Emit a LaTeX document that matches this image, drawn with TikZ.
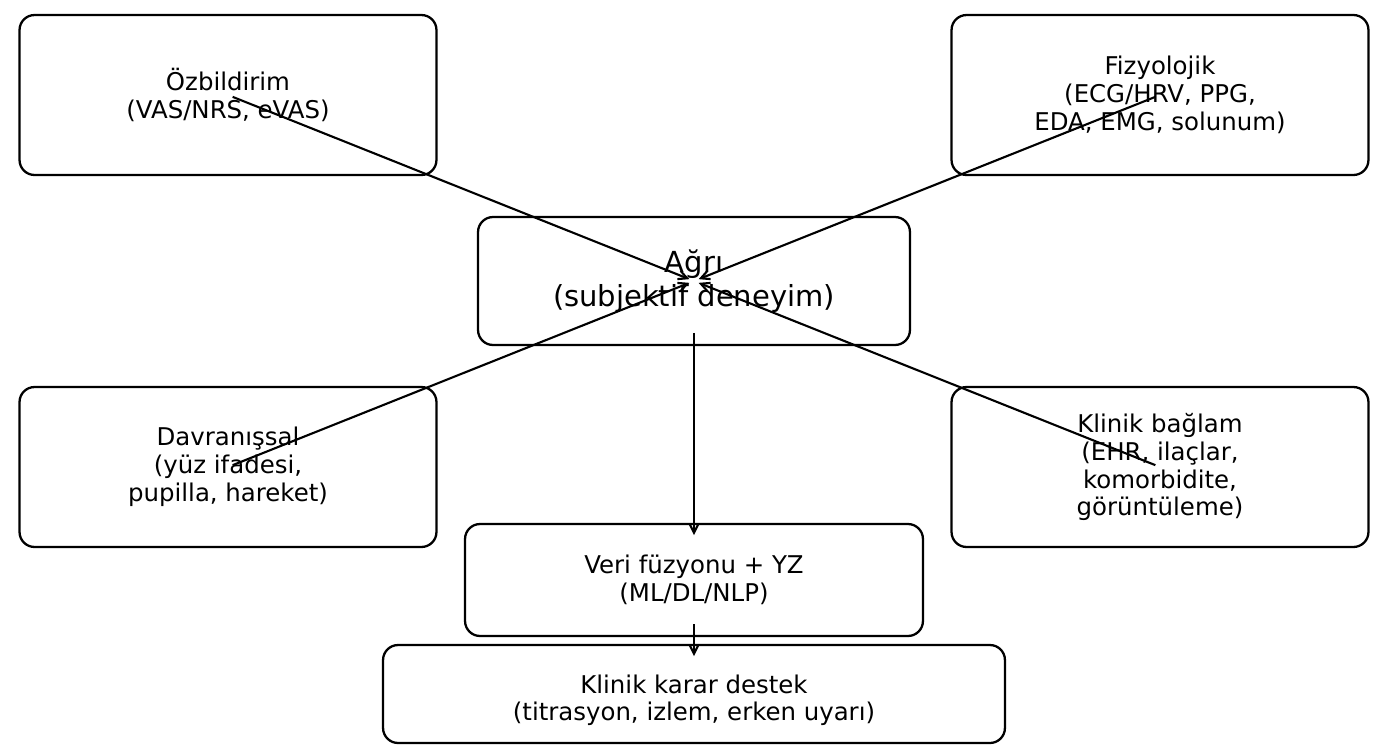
\documentclass[tikz,border=0pt]{standalone}
\usepackage{fontspec}
\setmainfont{DejaVu Sans}
\usepackage{tikz}
\usetikzlibrary{arrows.meta,positioning}
\tikzset{
  % base box
  box/.style={
    draw=black,
    line width=1.3pt,
    rounded corners=0.3cm,
    inner sep=0pt,
    align=center,
    font=\fontsize{13.9pt}{15.9pt}\selectfont
  },
  % source boxes
  srcbox/.style={box, minimum width=8.34cm, minimum height=3.2cm},
  % central box
  painbox/.style={box, font=\fontsize{16.5pt}{19.3pt}\selectfont},
  % arrows
  arr/.style={-{Straight Barb[length=5pt,width=5pt]}, line width=1.2pt, black},
}
\begin{document}
\begin{tikzpicture}[x=0.02cm, y=-0.02cm]
    \useasboundingbox (0,0) rectangle (1387,745);

    % sources
    \node[srcbox] (selfrep) at (228,95) {Özbildirim\\(VAS/NRS, eVAS)};
    \node[srcbox] (physio) at (1160,95) {Fizyolojik\\(ECG/HRV, PPG,\\EDA, EMG, solunum)};
    \node[srcbox] (behav) at (228,467) {Davranışsal\\(yüz ifadesi,\\pupilla, hareket)};
    \node[srcbox] (context) at (1160,467) {Klinik bağlam\\(EHR, ilaçlar,\\komorbidite,\\görüntüleme)};

    % center and chain
    \node[painbox, minimum width=8.64cm, minimum height=2.56cm] (pain) at (694,281) {Ağrı\\(subjektif deneyim)};
    \node[box, minimum width=9.16cm, minimum height=2.24cm] (fusion) at (694,580) {Veri füzyonu + YZ\\(ML/DL/NLP)};
    \node[box, minimum width=12.44cm, minimum height=1.96cm] (cds) at (694,694) {\rule{0pt}{0.62cm}Klinik karar destek\\(titrasyon, izlem, erken uyarı)};

    % arrows into pain
    \draw[arr, shorten <=0.1cm, shorten >=0.1cm] (selfrep.center) -- (pain.center);
    \draw[arr, shorten <=0.1cm, shorten >=0.1cm] (physio.center) -- (pain.center);
    \draw[arr, shorten <=0.1cm, shorten >=0.1cm] (behav.center) -- (pain.center);
    \draw[arr, shorten <=0.1cm, shorten >=0.1cm] (context.center) -- (pain.center);

    % chain arrows
    \draw[arr, shorten <=1.04cm, shorten >=0.9cm] (pain.center) -- (fusion.center);
    \draw[arr, shorten <=0.88cm, shorten >=0.76cm] (fusion.center) -- (cds.center);
\end{tikzpicture}
\end{document}
